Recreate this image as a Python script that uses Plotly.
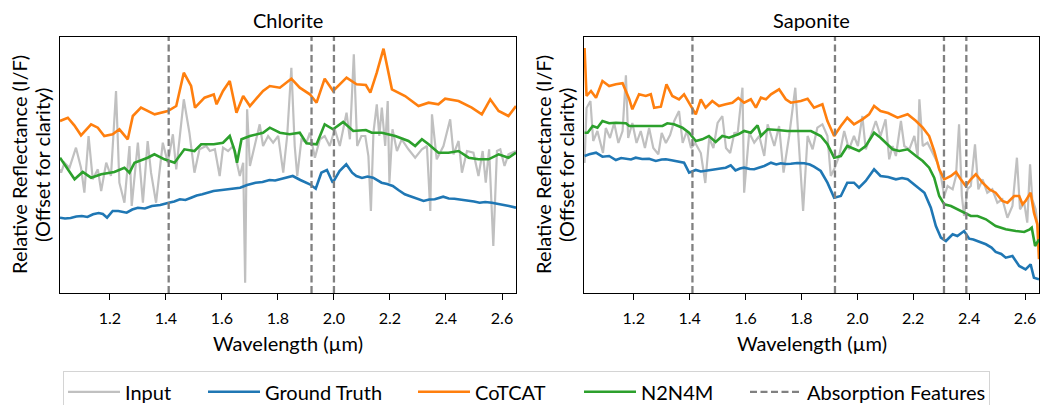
import plotly.graph_objects as go

# ---------------- Chlorite ----------------
chl_in_w = [1.022, 1.026, 1.038, 1.056, 1.079, 1.097, 1.109, 1.124, 1.139, 1.157, 1.169, 1.187, 1.204, 1.222, 1.234, 1.252, 1.270, 1.278, 1.300, 1.318, 1.335, 1.347, 1.365, 1.389, 1.407, 1.425, 1.437, 1.464, 1.484, 1.502, 1.520, 1.544, 1.557, 1.575, 1.592, 1.604, 1.622, 1.640, 1.664, 1.676, 1.683, 1.690, 1.700, 1.717, 1.735, 1.747, 1.765, 1.783, 1.801, 1.819, 1.833, 1.848, 1.860, 1.869, 1.884, 1.902, 1.914, 1.932, 1.950, 1.967, 1.985, 2.003, 2.021, 2.045, 2.057, 2.071, 2.083, 2.098, 2.112, 2.123, 2.132, 2.141, 2.153, 2.162, 2.171, 2.183, 2.192, 2.198, 2.209, 2.225, 2.242, 2.266, 2.290, 2.314, 2.332, 2.344, 2.350, 2.367, 2.391, 2.415, 2.427, 2.445, 2.457, 2.475, 2.498, 2.516, 2.531, 2.542, 2.554, 2.569, 2.582, 2.594, 2.609, 2.623, 2.650]
chl_in_v = [1.237, 1.203, 1.303, 1.253, 1.453, 1.253, 1.003, 1.570, 1.137, 1.237, 1.020, 1.303, 1.170, 2.020, 1.103, 0.903, 1.470, 0.870, 1.503, 0.903, 1.520, 1.203, 0.903, 1.503, 1.303, 1.587, 1.237, 1.937, 1.603, 1.203, 1.437, 1.470, 1.420, 1.437, 1.170, 1.453, 1.420, 1.470, 1.170, 1.303, 0.103, 1.837, 1.270, 1.470, 1.687, 1.470, 1.570, 1.503, 1.570, 1.203, 1.570, 2.253, 1.470, 1.170, 1.537, 1.503, 1.603, 1.353, 1.537, 1.570, 1.470, 1.637, 1.470, 1.803, 1.537, 2.387, 1.470, 1.570, 1.570, 1.370, 0.820, 1.603, 1.887, 1.570, 1.853, 1.470, 1.920, 1.103, 1.637, 1.420, 1.537, 1.437, 1.353, 1.437, 1.470, 0.820, 1.787, 1.337, 1.470, 1.737, 1.387, 1.520, 1.203, 1.420, 1.403, 1.170, 1.420, 1.103, 1.437, 0.470, 1.420, 1.437, 1.270, 1.387, 1.420]

chl_gt_w = [1.022, 1.04, 1.06, 1.08, 1.10, 1.12, 1.14, 1.16, 1.175, 1.19, 1.21, 1.23, 1.26, 1.28, 1.30, 1.325, 1.35, 1.38, 1.41, 1.43, 1.45, 1.47, 1.49, 1.51, 1.53, 1.55, 1.57, 1.60, 1.62, 1.645, 1.665, 1.69, 1.72, 1.745, 1.77, 1.79, 1.81, 1.83, 1.853, 1.88, 1.914, 1.935, 1.955, 1.975, 1.996, 2.02, 2.044, 2.065, 2.08, 2.10, 2.12, 2.14, 2.17, 2.19, 2.21, 2.23, 2.253, 2.27, 2.29, 2.32, 2.34, 2.36, 2.39, 2.41, 2.43, 2.455, 2.48, 2.50, 2.52, 2.54, 2.564, 2.58, 2.60, 2.625, 2.65]
chl_gt_v = [0.753, 0.745, 0.750, 0.765, 0.770, 0.760, 0.787, 0.800, 0.790, 0.753, 0.820, 0.820, 0.803, 0.835, 0.853, 0.845, 0.870, 0.880, 0.903, 0.915, 0.937, 0.930, 0.953, 0.975, 0.987, 1.000, 1.020, 1.030, 1.037, 1.045, 1.053, 1.080, 1.103, 1.110, 1.130, 1.125, 1.137, 1.150, 1.170, 1.130, 1.087, 1.043, 1.203, 1.230, 1.103, 1.220, 1.287, 1.203, 1.170, 1.150, 1.165, 1.153, 1.103, 1.090, 1.070, 1.030, 0.987, 0.970, 0.953, 0.920, 0.935, 0.937, 0.963, 0.945, 0.943, 0.935, 0.920, 0.915, 0.903, 0.910, 0.903, 0.895, 0.887, 0.870, 0.853]

chl_ct_w = [1.022, 1.05, 1.073, 1.097, 1.133, 1.157, 1.18, 1.21, 1.234, 1.264, 1.282, 1.311, 1.36, 1.407, 1.437, 1.464, 1.49, 1.504, 1.538, 1.571, 1.581, 1.604, 1.628, 1.652, 1.676, 1.70, 1.747, 1.771, 1.807, 1.848, 1.878, 1.914, 1.938, 1.967, 1.997, 2.045, 2.081, 2.114, 2.13, 2.153, 2.177, 2.207, 2.254, 2.302, 2.338, 2.373, 2.397, 2.445, 2.492, 2.528, 2.558, 2.588, 2.623, 2.65]
chl_ct_v = [1.720, 1.753, 1.677, 1.577, 1.687, 1.653, 1.570, 1.587, 1.637, 1.537, 1.770, 1.853, 1.787, 1.820, 1.870, 2.203, 2.070, 1.853, 1.953, 1.985, 1.887, 2.020, 2.120, 1.803, 1.970, 1.870, 2.020, 2.070, 2.053, 2.143, 2.053, 1.987, 1.903, 2.143, 2.020, 2.153, 2.087, 2.080, 2.003, 2.203, 2.443, 2.037, 1.970, 1.870, 1.903, 1.887, 1.943, 1.920, 1.853, 1.787, 1.937, 1.820, 1.770, 1.870]

chl_nn_w = [1.022, 1.038, 1.074, 1.103, 1.133, 1.169, 1.216, 1.252, 1.270, 1.288, 1.335, 1.359, 1.395, 1.431, 1.466, 1.502, 1.526, 1.571, 1.604, 1.628, 1.646, 1.654, 1.670, 1.700, 1.747, 1.771, 1.807, 1.842, 1.878, 1.902, 1.938, 1.967, 1.997, 2.033, 2.069, 2.114, 2.135, 2.171, 2.219, 2.266, 2.290, 2.314, 2.338, 2.373, 2.409, 2.445, 2.481, 2.516, 2.552, 2.588, 2.623, 2.65]
chl_nn_v = [1.353, 1.287, 1.137, 1.210, 1.153, 1.187, 1.210, 1.253, 1.203, 1.303, 1.353, 1.387, 1.337, 1.303, 1.437, 1.420, 1.487, 1.487, 1.503, 1.570, 1.420, 1.303, 1.537, 1.570, 1.603, 1.653, 1.603, 1.587, 1.603, 1.497, 1.487, 1.687, 1.637, 1.710, 1.620, 1.630, 1.603, 1.603, 1.570, 1.520, 1.470, 1.537, 1.487, 1.403, 1.403, 1.420, 1.353, 1.337, 1.337, 1.387, 1.353, 1.403]

chl_feat = [1.41, 1.92, 2.00]

# ---------------- Saponite ----------------
sap_in_w = [1.024, 1.031, 1.045, 1.055, 1.070, 1.090, 1.100, 1.115, 1.130, 1.145, 1.160, 1.172, 1.180, 1.195, 1.210, 1.225, 1.240, 1.255, 1.270, 1.288, 1.300, 1.315, 1.330, 1.345, 1.362, 1.375, 1.390, 1.405, 1.420, 1.440, 1.456, 1.470, 1.485, 1.500, 1.517, 1.530, 1.545, 1.560, 1.572, 1.589, 1.595, 1.613, 1.631, 1.649, 1.667, 1.679, 1.703, 1.720, 1.736, 1.756, 1.778, 1.792, 1.806, 1.822, 1.840, 1.857, 1.875, 1.893, 1.905, 1.917, 1.935, 1.953, 1.970, 1.988, 2.002, 2.018, 2.030, 2.048, 2.066, 2.083, 2.101, 2.114, 2.126, 2.138, 2.156, 2.168, 2.186, 2.204, 2.216, 2.222, 2.234, 2.251, 2.269, 2.287, 2.299, 2.311, 2.323, 2.341, 2.353, 2.364, 2.374, 2.382, 2.394, 2.406, 2.421, 2.433, 2.448, 2.465, 2.483, 2.501, 2.519, 2.537, 2.555, 2.571, 2.582, 2.597, 2.608, 2.618, 2.626, 2.638, 2.650]
sap_in_v = [1.300, 1.850, 1.920, 1.520, 1.620, 1.400, 1.650, 1.550, 1.700, 1.500, 1.620, 2.177, 1.550, 1.700, 1.500, 1.620, 1.450, 1.650, 1.450, 1.387, 1.600, 1.500, 1.580, 1.720, 1.820, 1.500, 1.620, 1.450, 1.500, 1.400, 1.100, 1.550, 1.450, 1.700, 1.770, 1.450, 1.400, 1.600, 1.603, 2.053, 1.003, 1.603, 1.503, 1.570, 1.370, 1.687, 1.470, 1.670, 1.203, 1.570, 2.053, 1.470, 0.820, 1.570, 1.437, 1.653, 1.687, 1.570, 1.170, 1.237, 1.370, 1.620, 1.437, 1.570, 1.470, 1.770, 1.437, 1.570, 1.720, 1.570, 1.737, 1.337, 1.470, 1.370, 1.720, 1.470, 1.437, 1.570, 1.370, 1.937, 1.470, 1.503, 1.403, 1.303, 1.170, 0.970, 1.070, 1.037, 1.170, 1.687, 0.970, 0.770, 1.037, 1.070, 1.487, 1.037, 1.137, 1.003, 1.037, 0.903, 0.937, 0.753, 0.870, 1.353, 0.837, 0.903, 0.703, 1.287, 0.937, 0.837, 0.570]

sap_gt_w = [1.024, 1.041, 1.065, 1.088, 1.112, 1.136, 1.155, 1.172, 1.19, 1.207, 1.23, 1.255, 1.279, 1.30, 1.315, 1.335, 1.350, 1.380, 1.398, 1.422, 1.44, 1.457, 1.475, 1.493, 1.51, 1.529, 1.547, 1.564, 1.58, 1.595, 1.615, 1.631, 1.65, 1.667, 1.691, 1.71, 1.726, 1.745, 1.762, 1.785, 1.810, 1.83, 1.845, 1.869, 1.893, 1.917, 1.941, 1.964, 1.988, 2.006, 2.030, 2.060, 2.083, 2.110, 2.138, 2.16, 2.180, 2.210, 2.240, 2.263, 2.281, 2.299, 2.317, 2.341, 2.358, 2.382, 2.400, 2.415, 2.430, 2.445, 2.460, 2.48, 2.495, 2.515, 2.531, 2.555, 2.568, 2.579, 2.602, 2.620, 2.632, 2.650]
sap_gt_v = [1.370, 1.387, 1.403, 1.363, 1.370, 1.330, 1.350, 1.343, 1.335, 1.353, 1.340, 1.343, 1.320, 1.335, 1.337, 1.328, 1.320, 1.303, 1.203, 1.230, 1.215, 1.220, 1.225, 1.237, 1.245, 1.253, 1.277, 1.225, 1.245, 1.253, 1.240, 1.237, 1.255, 1.270, 1.303, 1.285, 1.297, 1.290, 1.293, 1.300, 1.297, 1.285, 1.263, 1.220, 1.103, 0.953, 0.970, 1.103, 1.103, 1.053, 1.120, 1.237, 1.170, 1.160, 1.137, 1.150, 1.137, 1.070, 1.003, 0.853, 0.670, 0.553, 0.520, 0.587, 0.570, 0.620, 0.543, 0.535, 0.520, 0.505, 0.487, 0.455, 0.410, 0.390, 0.353, 0.370, 0.320, 0.270, 0.237, 0.287, 0.153, 0.137]

sap_ct_w = [1.024, 1.031, 1.047, 1.065, 1.088, 1.112, 1.136, 1.160, 1.184, 1.195, 1.219, 1.243, 1.261, 1.273, 1.297, 1.317, 1.338, 1.362, 1.380, 1.398, 1.422, 1.440, 1.457, 1.481, 1.505, 1.529, 1.553, 1.574, 1.595, 1.619, 1.637, 1.655, 1.673, 1.691, 1.720, 1.744, 1.762, 1.798, 1.822, 1.845, 1.875, 1.893, 1.917, 1.941, 1.964, 1.988, 2.018, 2.042, 2.060, 2.083, 2.110, 2.144, 2.180, 2.210, 2.234, 2.257, 2.275, 2.293, 2.311, 2.335, 2.353, 2.370, 2.388, 2.406, 2.424, 2.448, 2.472, 2.495, 2.519, 2.537, 2.561, 2.579, 2.591, 2.602, 2.620, 2.632, 2.644, 2.650]
sap_ct_v = [2.450, 1.970, 2.020, 1.953, 2.120, 2.070, 2.087, 2.097, 1.937, 1.837, 1.987, 1.970, 1.987, 1.853, 1.863, 2.087, 1.970, 1.937, 1.987, 1.903, 1.787, 1.937, 1.853, 1.920, 1.870, 1.887, 1.903, 1.950, 1.903, 1.937, 1.853, 1.953, 1.937, 1.987, 2.037, 1.937, 1.903, 1.920, 1.943, 1.853, 1.887, 1.720, 1.570, 1.670, 1.753, 1.687, 1.737, 1.787, 1.870, 1.820, 1.800, 1.753, 1.787, 1.720, 1.653, 1.570, 1.420, 1.237, 1.137, 1.170, 1.210, 1.137, 1.070, 1.137, 1.187, 1.103, 1.037, 1.003, 0.920, 0.903, 0.970, 0.970, 0.887, 0.920, 1.003, 0.803, 0.687, 0.337]

sap_nn_w = [1.024, 1.035, 1.053, 1.070, 1.088, 1.112, 1.136, 1.172, 1.184, 1.219, 1.255, 1.279, 1.303, 1.320, 1.344, 1.374, 1.398, 1.422, 1.445, 1.469, 1.493, 1.517, 1.541, 1.574, 1.595, 1.619, 1.643, 1.655, 1.679, 1.714, 1.750, 1.798, 1.834, 1.869, 1.893, 1.917, 1.941, 1.964, 1.988, 2.006, 2.030, 2.060, 2.083, 2.110, 2.126, 2.150, 2.180, 2.210, 2.234, 2.257, 2.275, 2.293, 2.311, 2.335, 2.358, 2.382, 2.406, 2.430, 2.460, 2.495, 2.531, 2.567, 2.597, 2.617, 2.624, 2.636, 2.650]
sap_nn_v = [1.603, 1.603, 1.670, 1.653, 1.720, 1.697, 1.703, 1.697, 1.670, 1.670, 1.677, 1.670, 1.670, 1.697, 1.687, 1.653, 1.603, 1.520, 1.537, 1.570, 1.510, 1.570, 1.553, 1.587, 1.620, 1.603, 1.677, 1.570, 1.637, 1.630, 1.620, 1.620, 1.620, 1.570, 1.487, 1.353, 1.370, 1.470, 1.437, 1.420, 1.470, 1.603, 1.553, 1.480, 1.437, 1.420, 1.437, 1.370, 1.320, 1.253, 1.153, 0.970, 0.887, 0.870, 0.837, 0.803, 0.770, 0.770, 0.737, 0.670, 0.637, 0.620, 0.610, 0.637, 0.653, 0.470, 0.537]

sap_feat = [1.41, 1.92, 2.31, 2.39]

tick_vals = [1.2, 1.4, 1.6, 1.8, 2.0, 2.2, 2.4, 2.6]
tick_text = ["1.2", "1.4", "1.6", "1.8", "2.0", "2.2", "2.4", "2.6"]

# ---------------- styling ----------------
C_IN, C_GT, C_CT, C_NN, C_AF = "#c0c0c0", "#1f77b4", "#ff7f0e", "#2ca02c", "#808080"
FONT = "Lato"
YMAX = 2.56
XR = [1.022, 2.65]
LEGW = {"Input": 73, "Ground Truth": 143, "CoTCAT": 99, "N2N4M": 99, "Absorption Features": 176}

fig = go.Figure()

def add_panel(xa, ya, in_w, in_v, gt_w, gt_v, ct_w, ct_v, nn_w, nn_v, feats, show):
    specs = [("Input", in_w, in_v, C_IN, 2.2), ("Ground Truth", gt_w, gt_v, C_GT, 2.6),
             ("CoTCAT", ct_w, ct_v, C_CT, 2.6), ("N2N4M", nn_w, nn_v, C_NN, 2.6)]
    for name, w, v, c, lw in specs:
        fig.add_trace(go.Scatter(x=w, y=v, mode="lines", name=name,
                                 line=dict(color=c, width=lw), xaxis=xa, yaxis=ya,
                                 showlegend=show, legendgroup=name, legendwidth=LEGW[name]))
    for i, f in enumerate(feats):
        fig.add_trace(go.Scatter(x=[f, f], y=[0, YMAX], mode="lines", name="Absorption Features",
                                 line=dict(color=C_AF, width=2.3, dash="7px,3.5px"),
                                 xaxis=xa, yaxis=ya, showlegend=(show and i == 0),
                                 legendgroup="af", legendwidth=LEGW["Absorption Features"]))

add_panel("x", "y", chl_in_w, chl_in_v, chl_gt_w, chl_gt_v, chl_ct_w, chl_ct_v,
          chl_nn_w, chl_nn_v, chl_feat, True)
add_panel("x2", "y2", sap_in_w, sap_in_v, sap_gt_w, sap_gt_v, sap_ct_w, sap_ct_v,
          sap_nn_w, sap_nn_v, sap_feat, False)

W, H = 1041, 405
def px(x): return x / W
def py(y): return 1 - y / H

xcommon = dict(range=XR, showline=True, linecolor="black", linewidth=1.3, mirror=True,
               ticks="outside", ticklen=6, tickwidth=1.2, tickcolor="black",
               tickvals=tick_vals, ticktext=tick_text, ticklabelstandoff=5,
               tickfont=dict(family=FONT, size=16, color="black"),
               showgrid=False, zeroline=False)
ycommon = dict(range=[0, YMAX], showline=True, linecolor="black", linewidth=1.3, mirror=True,
               showticklabels=False, ticks="", showgrid=False, zeroline=False)

ydom = [py(293), py(37)]
fig.update_layout(
    width=W, height=H, margin=dict(l=0, r=0, t=0, b=0, autoexpand=False),
    plot_bgcolor="white", paper_bgcolor="white",
    font=dict(family=FONT, size=20, color="black"),
    xaxis=dict(domain=[px(60), px(516)], anchor="y", **xcommon),
    yaxis=dict(domain=ydom, anchor="x", **ycommon),
    xaxis2=dict(domain=[px(584), px(1039)], anchor="y2", **xcommon),
    yaxis2=dict(domain=ydom, anchor="x2", **ycommon),
    showlegend=True,
    legend=dict(orientation="h", x=px(63), xanchor="left", y=py(371), yanchor="top",
                itemwidth=52, bordercolor="#d4d4d4", borderwidth=1.3,
                font=dict(family=FONT, size=20), bgcolor="white"),
)

ann = []
for cx, title in [((60 + 516) / 2, "Chlorite"), ((584 + 1039) / 2, "Saponite")]:
    ann.append(dict(x=px(cx), y=py(20), xref="paper", yref="paper", text=title,
                    showarrow=False, font=dict(family=FONT, size=20), xanchor="center", yanchor="middle"))
    ann.append(dict(x=px(cx), y=py(343), xref="paper", yref="paper", text="Wavelength (µm)",
                    showarrow=False, font=dict(family=FONT, size=20), xanchor="center", yanchor="middle"))
for off in [0, 524]:
    ann.append(dict(x=px(19 + off), y=py(165), xref="paper", yref="paper",
                    text="Relative Reflectance (I/F)", textangle=-90,
                    showarrow=False, font=dict(family=FONT, size=20), xanchor="center", yanchor="middle"))
    ann.append(dict(x=px(42 + off), y=py(165), xref="paper", yref="paper",
                    text="(Offset for clarity)", textangle=-90,
                    showarrow=False, font=dict(family=FONT, size=20), xanchor="center", yanchor="middle"))
fig.update_layout(annotations=ann)

fig.write_html("out.html")
